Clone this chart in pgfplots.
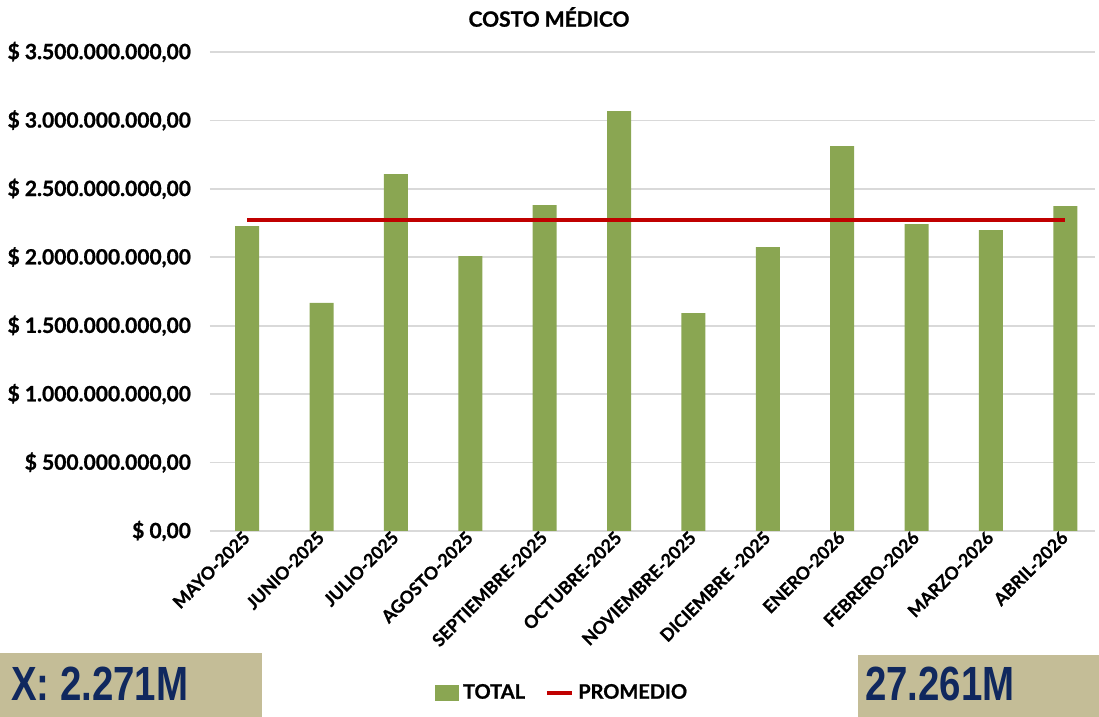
\documentclass[border=0pt]{standalone}
\usepackage{fontspec}
\setmainfont{Lato}[BoldFeatures={FakeBold=1}]
\newfontfamily\narrowfont[FakeStretch=0.8]{Liberation Sans}
\usepackage{pgfplots}
\pgfplotsset{compat=1.18}
\definecolor{barverde}{HTML}{8AA652}
\definecolor{promred}{HTML}{C00000}
\definecolor{cajatan}{HTML}{C4BD97}
\definecolor{azul}{HTML}{10285E}
\begin{document}
\begin{tikzpicture}[x=0.5pt,y=0.5pt]
\useasboundingbox (0,0) rectangle (1099,717);
% cajas de resumen
\fill[cajatan] (0,0) rectangle (262,64);
\fill[cajatan] (858,0) rectangle (1099,62);
\node[anchor=west,text=azul,font=\narrowfont\bfseries\fontsize{24}{24}\selectfont] at (4,33) {X: 2.271M};
\node[anchor=west,text=azul,font=\narrowfont\bfseries\fontsize{24}{24}\selectfont] at (858,33) {27.261M};
\node[font=\bfseries\fontsize{10.5}{12}\selectfont] at (549,700) {COSTO MÉDICO};
\begin{axis}[
  at={(105pt,93pt)}, anchor=south west,
  scale only axis, width=442.5pt, height=239.5pt,
  xmin=-0.5, xmax=11.4, ymin=0, ymax=3.5e9,
  axis line style={draw=none},
  major tick length=0pt,
  ymajorgrids, grid style={gray!30, line width=0.8pt},
  ytick={0,5e8,1e9,1.5e9,2e9,2.5e9,3e9,3.5e9},
  yticklabels={{\$ 0,00},{\$ 500.000.000,00},{\$ 1.000.000.000,00},{\$ 1.500.000.000,00},{\$ 2.000.000.000,00},{\$ 2.500.000.000,00},{\$ 3.000.000.000,00},{\$ 3.500.000.000,00}},
  scaled y ticks=false,
  yticklabel style={font=\bfseries\fontsize{10.5}{11}\selectfont, xshift=-6pt},
  xtick={0,...,11},
  xticklabels={MAYO-2025,JUNIO-2025,JULIO-2025,AGOSTO-2025,SEPTIEMBRE-2025,OCTUBRE-2025,NOVIEMBRE-2025,DICIEMBRE -2025,ENERO-2026,FEBRERO-2026,MARZO-2026,ABRIL-2026},
  xticklabel style={font=\bfseries\fontsize{8.8}{9}\selectfont, rotate=45, anchor=east, xshift=2pt, yshift=-1pt},
  legend style={at={(0.399,-0.338)}, anchor=center, draw=none, legend columns=-1,
    font=\bfseries\fontsize{10}{11}\selectfont, /tikz/every even column/.append style={column sep=8pt}},
  legend image code/.code={},
]
\addplot[ybar, bar width=12pt, fill=barverde, draw=none, area legend,
  legend image code/.code={\fill[barverde] (0cm,-0.14cm) rectangle (0.42cm,0.14cm);}]
  coordinates {(0,2228000000) (1,1666000000) (2,2608000000) (3,2009000000)
    (4,2381000000) (5,3068000000) (6,1592000000) (7,2075000000)
    (8,2812000000) (9,2243000000) (10,2199000000) (11,2374000000)};
\addlegendentry{TOTAL}
\addplot[promred, line width=1.8pt, mark=none,
  legend image code/.code={\draw[promred, line width=1.8pt] (0cm,0cm) -- (0.45cm,0cm);}]
  coordinates {(0,2271000000) (1,2271000000) (2,2271000000) (3,2271000000)
    (4,2271000000) (5,2271000000) (6,2271000000) (7,2271000000)
    (8,2271000000) (9,2271000000) (10,2271000000) (11,2271000000)};
\addlegendentry{PROMEDIO}
\end{axis}
\end{tikzpicture}
\end{document}
